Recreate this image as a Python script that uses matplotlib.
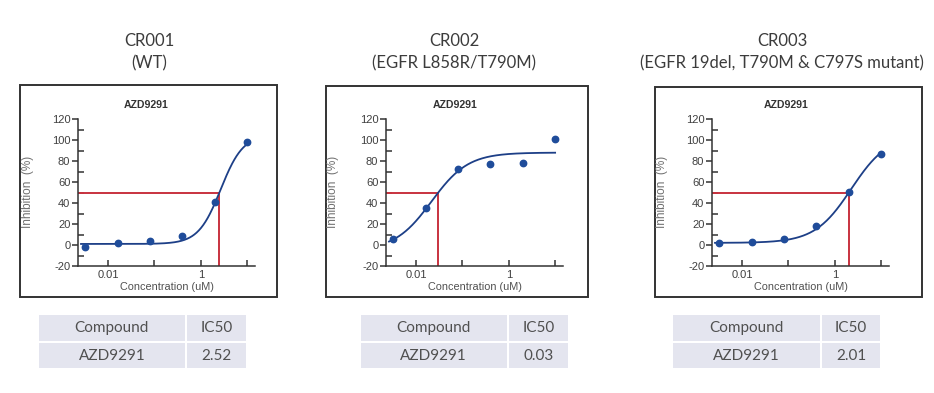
import numpy as np
import matplotlib
matplotlib.use("Agg")
import matplotlib.pyplot as plt
from matplotlib.patches import Rectangle
from matplotlib.ticker import FixedLocator, NullFormatter, FixedFormatter

# ------------------------ Data ------------------------
CONC = [0.0032, 0.016, 0.08, 0.4, 2, 10]          # uM, 5-fold dilution
INHIB_CR001 = [-2.2, 2.2, 3.8, 8.6, 40.6, 98.0]
INHIB_CR002 = [5.7, 34.9, 72.7, 77.1, 77.8, 101.0]
INHIB_CR003 = [2.2, 3.2, 5.7, 18.1, 50.8, 87.0]

# 4PL fit parameters: bottom, top, EC50, hill
FIT_CR001 = (1, 105, 2.69, 1.8)
FIT_CR002 = (-5, 88, 0.0215, 1.1)
FIT_CR003 = (2, 105, 2.276, 1.1)

IC50 = [2.52, 0.03, 2.01]
TITLES = ["CR001", "CR002", "CR003"]
SUBTITLES = ["(WT)", "(EGFR L858R/T790M)", "(EGFR 19del, T790M & C797S mutant)"]
COMPOUND = "AZD9291"

W, H = 934, 393

def fig_rect(x0, y0, w, h):
    return [x0 / W, 1 - (y0 + h) / H, w / W, h / H]

def fx(x):
    return x / W

def fy(y):
    return 1 - y / H

def four_pl(x, bottom, top, ec50, hill):
    return bottom + (top - bottom) / (1 + (ec50 / x) ** hill)

fig = plt.figure(figsize=(W / 100, H / 100), dpi=100)

TITLE_FONT = "Lato"
CHART_FONT = "Liberation Sans"

panels = [
    # box (x0, y0, x1, y1), axes left px, title center x, ylabel x
    dict(box=(20, 85, 277, 297), ax_left=78, tx=149, ylx=28,
         y=INHIB_CR001, fit=FIT_CR001, table=(39, 185.7, 246)),
    dict(box=(326, 86, 588, 297), ax_left=386, tx=454, ylx=333,
         y=INHIB_CR002, fit=FIT_CR002, table=(360.7, 507.7, 568.3)),
    dict(box=(655, 87, 922, 297), ax_left=712, tx=782, ylx=662,
         y=INHIB_CR003, fit=FIT_CR003, table=(673.3, 821, 880)),
]

XMIN, XMAX = 10 ** -2.65, 10 ** 1.17
AX_TOP, AX_BOT, AX_W = 119, 266, 177
red = "#c8323f"
navy = "#1d3f87"
dot = "#1f4c9a"

for i, p in enumerate(panels):
    # titles above the frame
    fig.text(fx(p["tx"]), fy(41), TITLES[i], ha="center", va="center",
             fontsize=12, color="#3c3c3c", family=TITLE_FONT)
    fig.text(fx(p["tx"]), fy(63), SUBTITLES[i], ha="center", va="center",
             fontsize=12, color="#3c3c3c", family=TITLE_FONT)

    # frame
    x0, y0, x1, y1 = p["box"]
    fig.add_artist(Rectangle((fx(x0), fy(y1)), fx(x1 - x0), (y1 - y0) / H,
                             transform=fig.transFigure, fill=False,
                             edgecolor="#333333", linewidth=1.4))
    fig.text(fx((x0 + x1) / 2 - 2), fy(105), COMPOUND, ha="center", va="center",
             fontsize=7.6, fontweight="bold", color="#333333", family=CHART_FONT)

    ax = fig.add_axes(fig_rect(p["ax_left"], AX_TOP, AX_W, AX_BOT - AX_TOP))
    ax.set_xscale("log")
    ax.set_xlim(XMIN, XMAX)
    ax.set_ylim(-20, 120)
    for s in ["top", "right"]:
        ax.spines[s].set_visible(False)
    for s in ["left", "bottom"]:
        ax.spines[s].set_color("#333333")
        ax.spines[s].set_linewidth(1.1)

    ax.xaxis.set_major_locator(FixedLocator([0.01, 0.1, 1, 10]))
    ax.xaxis.set_major_formatter(FixedFormatter(["0.01", "", "1", ""]))
    ax.xaxis.set_minor_locator(FixedLocator([]))
    ax.xaxis.set_minor_formatter(NullFormatter())
    ax.tick_params(axis="x", direction="in", length=4, width=1.1,
                   color="#333333", labelsize=8, labelcolor="#404040", pad=3)

    yt = list(range(-20, 121, 20))
    ax.yaxis.set_major_locator(FixedLocator(yt))
    ax.yaxis.set_major_formatter(FixedFormatter([str(v) for v in yt]))
    ax.yaxis.set_minor_locator(FixedLocator(list(range(-10, 121, 20))))
    ax.tick_params(axis="y", which="major", direction="out", length=4, width=1.1,
                   color="#333333", labelsize=8, labelcolor="#404040", pad=1.5)
    ax.tick_params(axis="y", which="minor", direction="in", length=4, width=1.1,
                   color="#333333")
    for lab in ax.get_xticklabels() + ax.get_yticklabels():
        lab.set_family(CHART_FONT)

    ax.set_xlabel("Concentration (uM)", fontsize=7.8, color="#505050",
                  family=CHART_FONT, labelpad=1)
    fig.text(fx(p["ylx"]), fy(192), "Inhibition  (%)", rotation=90,
             ha="center", va="center", fontsize=8.5, color="#707070",
             family=CHART_FONT)

    # IC50 guide lines
    ic = IC50[i]
    ax.plot([XMIN, ic], [50, 50], color=red, linewidth=1.4, zorder=2)
    ax.plot([ic, ic], [-20, 50], color=red, linewidth=1.4, zorder=2)

    # fitted curve and points
    xs = np.logspace(np.log10(0.0026), 1, 300)
    ax.plot(xs, four_pl(xs, *p["fit"]), color=navy, linewidth=1.3, zorder=3)
    ax.plot(CONC, p["y"], "o", color=dot, markersize=4.6, zorder=4,
            clip_on=False)

    # IC50 table
    tl, ts, tr = p["table"]
    rows = [(315, 341), (343, 368.3)]
    cells = [["Compound", "IC50"], [COMPOUND, f"{ic:.2f}"]]
    cols = [(tl, ts - 1), (ts + 1, tr)]
    for r, (ry0, ry1) in enumerate(rows):
        for c, (cx0, cx1) in enumerate(cols):
            fig.add_artist(Rectangle((fx(cx0), fy(ry1)), fx(cx1 - cx0), (ry1 - ry0) / H,
                                     transform=fig.transFigure, facecolor="#e4e5ef",
                                     edgecolor="none"))
            fig.text(fx((cx0 + cx1) / 2), fy((ry0 + ry1) / 2), cells[r][c],
                     ha="center", va="center", fontsize=11, color="#505050",
                     family=TITLE_FONT)

fig.savefig("out.png", dpi=100, facecolor="white")
